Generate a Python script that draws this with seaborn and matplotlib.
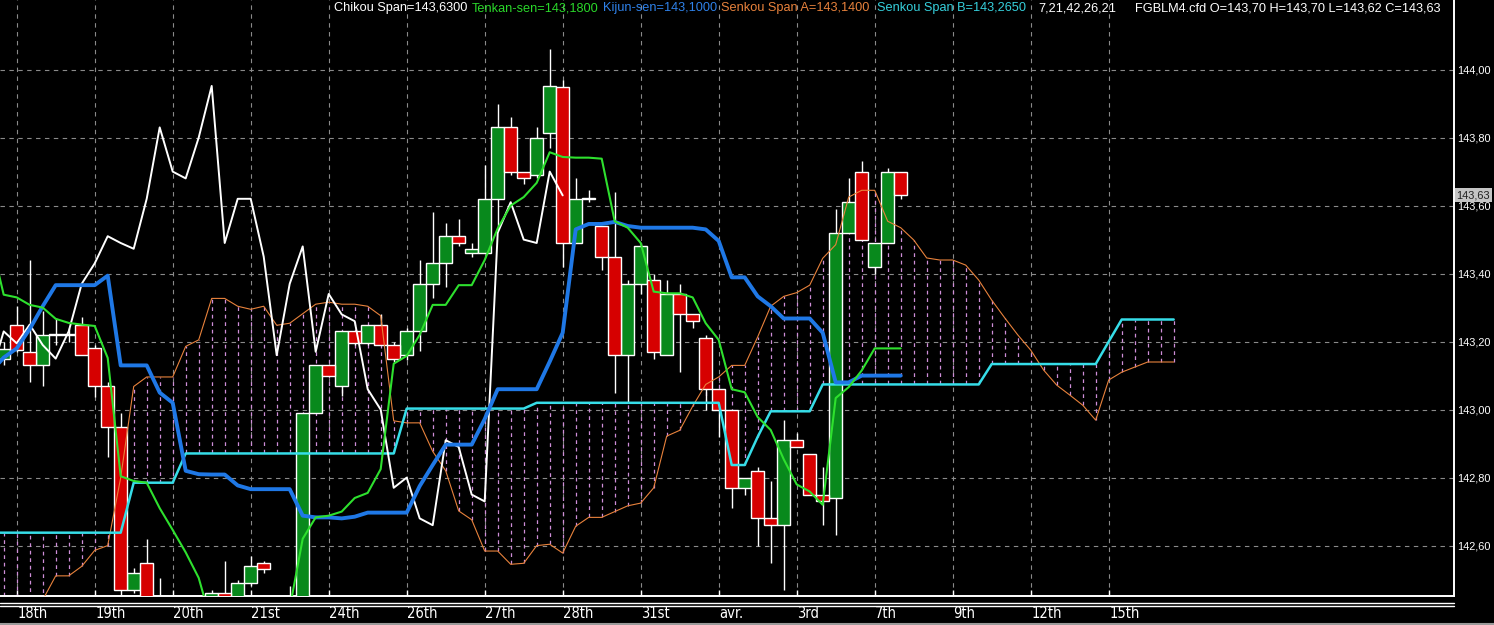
import numpy as np
import matplotlib
matplotlib.use("Agg")
import matplotlib.pyplot as plt
import matplotlib.transforms as mtransforms
from matplotlib.lines import Line2D
import seaborn as sns

# ---------------- data ----------------
candle_bars = list(range(0, 70))
opens = [143.15, 143.25, 143.17, 143.13, 143.22, 143.22, 143.25, 143.18, 143.07, 142.95,
         142.47, 142.55, 142.38, 142.30, 142.22, 142.30, 142.38, 142.46, 142.40, 142.49,
         142.55, 142.40, 142.20, 142.35, 142.99, 143.13, 143.07, 143.23, 143.195, 143.25,
         143.19, 143.16, 143.23, 143.37, 143.43, 143.51, 143.462, 143.46, 143.62, 143.83,
         143.70, 143.69, 143.813, 143.95, 143.49, 143.62, 143.54, 143.45, 143.16, 143.37,
         143.38, 143.16, 143.34, 143.28, 143.21, 143.06, 143.00, 142.77, 142.82, 142.68,
         142.66, 142.91, 142.87, 142.75, 142.74, 143.52, 143.70, 143.42, 143.49, 143.70]
closes = [143.178, 143.175, 143.13, 143.22, 143.22, 143.22, 143.16, 143.07, 142.95, 142.47,
          142.52, 142.35, 142.30, 142.22, 142.30, 142.35, 142.46, 142.40, 142.49, 142.54,
          142.53, 142.20, 142.35, 142.99, 143.13, 143.10, 143.23, 143.195, 143.25, 143.19,
          143.15, 143.23, 143.37, 143.43, 143.51, 143.49, 143.473, 143.62, 143.83, 143.70,
          143.68, 143.80, 143.952, 143.49, 143.62, 143.62, 143.45, 143.16, 143.37, 143.48,
          143.17, 143.34, 143.28, 143.26, 143.06, 143.00, 142.77, 142.80, 142.68, 142.66,
          142.91, 142.89, 142.75, 142.73, 143.52, 143.61, 143.50, 143.49, 143.70, 143.63]
highs = [143.20, 143.305, 143.44, 143.29, 143.27, 143.24, 143.273, 143.19, 143.08, 142.99,
         142.534, 142.618, 142.505, 142.38, 142.36, 142.40, 142.47, 142.556, 142.50, 142.57,
         142.555, 142.43, 142.48, 142.99, 143.13, 143.13, 143.23, 143.23, 143.25, 143.28,
         143.20, 143.24, 143.44, 143.58, 143.55, 143.56, 143.49, 143.72, 143.90, 143.86,
         143.70, 143.83, 144.06, 143.97, 143.68, 143.645, 143.54, 143.64, 143.38, 143.49,
         143.40, 143.38, 143.37, 143.28, 143.22, 143.06, 143.00, 142.80, 142.83, 142.79,
         142.97, 142.93, 142.87, 142.83, 143.59, 143.68, 143.73, 143.49, 143.71, 143.70]
lows = [143.13, 143.17, 143.08, 143.07, 143.19, 143.20, 143.16, 143.038, 142.861, 142.40,
        142.46, 142.30, 142.25, 142.18, 142.15, 142.25, 142.35, 142.35, 142.38, 142.48,
        142.52, 142.10, 142.10, 142.30, 142.99, 143.10, 143.04, 143.19, 143.19, 143.19,
        143.14, 143.147, 143.173, 143.327, 143.36, 143.48, 143.45, 143.46, 143.53, 143.69,
        143.665, 143.68, 143.77, 143.42, 143.49, 143.61, 143.41, 143.05, 143.02, 143.34,
        143.15, 143.16, 143.11, 143.24, 143.00, 142.92, 142.71, 142.75, 142.60, 142.55,
        142.47, 142.89, 142.75, 142.66, 142.63, 143.52, 143.50, 143.40, 143.49, 143.62]

line_bars = list(range(-1, 70))
tenkan = [143.50,
          143.338, 143.330, 143.308, 143.30, 143.267, 143.255, 143.25, 143.246, 143.152, 142.804,
          142.79, 142.785, 142.71, 142.646, 142.58, 142.505, 142.37, 142.30, 142.28, 142.28,
          142.25, 142.25, 142.415, 142.62, 142.683, 142.688, 142.70, 142.74, 142.755, 142.825,
          143.135, 143.158, 143.22, 143.308, 143.308, 143.366, 143.366, 143.44, 143.533, 143.60,
          143.625, 143.667, 143.757, 143.743, 143.741, 143.741, 143.738, 143.554, 143.535, 143.49,
          143.347, 143.342, 143.342, 143.33, 143.254, 143.205, 143.06, 143.051, 142.978, 142.94,
          142.854, 142.78, 142.759, 142.72, 143.034, 143.066, 143.115, 143.18, 143.18, 143.18]
kijun = [143.11,
         143.153, 143.18, 143.237, 143.304, 143.366, 143.366, 143.366, 143.366, 143.394, 143.13,
         143.13, 143.13, 143.05, 143.02, 142.82, 142.81, 142.809, 142.809, 142.777, 142.766,
         142.766, 142.766, 142.766, 142.688, 142.683, 142.683, 142.68, 142.685, 142.697, 142.697,
         142.697, 142.697, 142.775, 142.837, 142.897, 142.897, 142.897, 142.972, 143.06, 143.06,
         143.06, 143.06, 143.141, 143.226, 143.53, 143.546, 143.546, 143.552, 143.54, 143.535,
         143.535, 143.535, 143.535, 143.535, 143.53, 143.496, 143.389, 143.389, 143.333, 143.304,
         143.268, 143.268, 143.268, 143.226, 143.08, 143.08, 143.10, 143.10, 143.10, 143.10]

chikou_bars = list(range(-1, 44))
chikou = [143.10,
          143.23, 143.195, 143.25, 143.19, 143.15, 143.23, 143.37, 143.43, 143.51, 143.49,
          143.473, 143.62, 143.83, 143.70, 143.68, 143.80, 143.952, 143.49, 143.62, 143.62,
          143.45, 143.16, 143.37, 143.48, 143.17, 143.34, 143.28, 143.26, 143.06, 143.00,
          142.77, 142.80, 142.68, 142.66, 142.91, 142.89, 142.75, 142.73, 143.52, 143.61,
          143.50, 143.49, 143.70, 143.63]

span_bars = list(range(-1, 91))
senkou_a = [142.34,
            142.36, 142.38, 142.40, 142.44, 142.511, 142.511, 142.539, 142.586, 142.60, 142.80,
            143.068, 143.096, 143.096, 143.096, 143.186, 143.205, 143.327, 143.327, 143.304, 143.295,
            143.304, 143.248, 143.254, 143.282, 143.31, 143.316, 143.31, 143.31, 143.304, 143.276,
            142.967, 142.961, 142.961, 142.877, 142.82, 142.702, 142.676, 142.584, 142.584, 142.545,
            142.548, 142.60, 142.604, 142.578, 142.657, 142.683, 142.683, 142.70, 142.717, 142.725,
            142.77, 142.922, 142.939, 143.01, 143.074, 143.096, 143.13, 143.13, 143.214, 143.304,
            143.333, 143.344, 143.366, 143.445, 143.485, 143.625, 143.645, 143.645, 143.554, 143.535,
            143.499, 143.446, 143.44, 143.44, 143.425, 143.381, 143.322, 143.27, 143.22, 143.175,
            143.116, 143.072, 143.043, 143.013, 142.969, 143.087, 143.11, 143.125, 143.14, 143.14, 143.14]
senkou_b = [142.638,
            142.638, 142.638, 142.638, 142.638, 142.638, 142.638, 142.638, 142.638, 142.638, 142.638,
            142.785, 142.785, 142.785, 142.785, 142.871, 142.871, 142.871, 142.871, 142.871, 142.871,
            142.871, 142.871, 142.871, 142.871, 142.871, 142.871, 142.871, 142.871, 142.871, 142.871,
            142.871, 143.003, 143.003, 143.003, 143.003, 143.003, 143.003, 143.003, 143.003, 143.003,
            143.003, 143.02, 143.02, 143.02, 143.02, 143.02, 143.02, 143.02, 143.02, 143.02,
            143.02, 143.02, 143.02, 143.02, 143.02, 143.02, 142.837, 142.837, 142.92, 142.995,
            142.995, 142.995, 142.995, 143.074, 143.074, 143.074, 143.074, 143.074, 143.074, 143.074,
            143.074, 143.074, 143.074, 143.074, 143.074, 143.074, 143.134, 143.134, 143.134, 143.134,
            143.134, 143.134, 143.134, 143.134, 143.134, 143.20, 143.265, 143.265, 143.265, 143.265, 143.265]

date_tick_bars = [1, 7, 13, 19, 25, 31, 37, 43, 49, 55, 61, 67, 73, 79, 85]
date_labels = ["18th", "19th", "20th", "21st", "24th", "26th", "27th", "28th", "31st",
               "avr.", "3rd", "7th", "9th", "12th", "15th"]
price_ticks = [142.6, 142.8, 143.0, 143.2, 143.4, 143.6, 143.8, 144.0]
last_price = 143.63

header_items = [
    (334, "Chikou Span=143,6300", "#ffffff"),
    (472, "Tenkan-sen=143,1800", "#2ad82a"),
    (603, "Kijun-sen=143,1000", "#2f82ea"),
    (721, "Senkou Span A=143,1400", "#e8823c"),
    (877, "Senkou Span B=143,2650", "#36d0dc"),
    (1038, "7,21,42,26,21", "#ffffff"),
    (1135, "FGBLM4.cfd O=143,70 H=143,70 L=143,62 C=143,63", "#ffffff"),
]

# ---------------- figure ----------------
sns.set_theme(style="dark")
plt.rcParams["font.family"] = ["Liberation Sans", "DejaVu Sans"]

W, H = 1494, 625
fig = plt.figure(figsize=(W / 100, H / 100), dpi=100, facecolor="black")
ax_right, ax_bottom = 1454, 596
ax = fig.add_axes([0, (H - ax_bottom) / H, ax_right / W, ax_bottom / H])
ax.set_facecolor("black")

ymax = 144.0 + 69.6 / 340
ymin = 144.0 - (ax_bottom - 69.6) / 340
xmin = -3.7 / 13
xmax = (ax_right - 3.7) / 13
ax.set_xlim(xmin, xmax)
ax.set_ylim(ymin, ymax)

# grid
ax.set_axisbelow(True)
ax.set_xticks(date_tick_bars)
ax.set_yticks(price_ticks)
ax.grid(True, color="#8a8a8a", linestyle=(0, (4, 4)), linewidth=0.8)

# cloud hatching (vertical dashed lines between spans)
sa = np.array(senkou_a)
sb = np.array(senkou_b)
sx = np.array(span_bars)
ax.vlines(sx[1:], np.minimum(sa, sb)[1:], np.maximum(sa, sb)[1:],
          colors="#cf8ed8", linestyles=(0, (3, 3)), linewidth=0.9, zorder=1.5)

# candles
o = np.array(opens); c = np.array(closes)
ax.vlines(candle_bars, lows, highs, colors="white", linewidth=1.0, zorder=2.5)
up = c >= o
body_bottom = np.minimum(o, c)
body_h = np.maximum(np.abs(c - o), 0.0015)
ax.bar(np.array(candle_bars)[up], body_h[up], bottom=body_bottom[up], width=0.97,
       color="#08891c", edgecolor="white", linewidth=1.0, zorder=3)
ax.bar(np.array(candle_bars)[~up], body_h[~up], bottom=body_bottom[~up], width=0.97,
       color="#d60000", edgecolor="white", linewidth=1.0, zorder=3)

# ichimoku lines
sns.lineplot(x=span_bars, y=senkou_a, ax=ax, color="#e8823c", linewidth=0.8, zorder=4)
sns.lineplot(x=span_bars, y=senkou_b, ax=ax, color="#36dde8", linewidth=1.8, zorder=4.2)
sns.lineplot(x=chikou_bars, y=chikou, ax=ax, color="white", linewidth=1.4, zorder=4.4)
sns.lineplot(x=line_bars, y=kijun, ax=ax, color="#1f78e6", linewidth=2.8, zorder=4.6)
sns.lineplot(x=line_bars, y=tenkan, ax=ax, color="#2ee02e", linewidth=1.5, zorder=4.8)
ax.set_xlabel("")
ax.set_ylabel("")

# spines / ticks
for s in ("top", "left"):
    ax.spines[s].set_visible(False)
for s in ("right", "bottom"):
    ax.spines[s].set_visible(True)
    ax.spines[s].set_color("white")
    ax.spines[s].set_linewidth(1.4)
ax.tick_params(axis="x", direction="in", length=4, color="white", width=1,
               labelbottom=False, bottom=True)
ax.yaxis.tick_right()
ax.tick_params(axis="y", length=0, pad=2.5, labelcolor="white", labelsize=7.9)
ax.set_yticklabels([f"{v:.2f}".replace(".", ",") for v in price_ticks])

# double lines under the plot, grey bottom line
for yy in (602.5, 605.5):
    fig.add_artist(Line2D([0, ax_right / W], [1 - yy / H, 1 - yy / H],
                          color="white", linewidth=1.0, transform=fig.transFigure))
fig.add_artist(Line2D([0, 1], [1 - 624 / H, 1 - 624 / H], color="#9a9a9a",
                      linewidth=1.5, transform=fig.transFigure))

# date labels
trans = mtransforms.blended_transform_factory(ax.transData, fig.transFigure)
for b, lab in zip(date_tick_bars, date_labels):
    ax.text(b + 0.05, 1 - 614 / H, lab, transform=trans, ha="left", va="center",
            color="white", fontsize=10.5, fontstretch="condensed",
            family=["Liberation Sans Narrow", "DejaVu Sans"], clip_on=False)

# header texts
for x, txt, col in header_items:
    fig.text(x / W, 1 - 8.5 / H, txt, color=col, fontsize=9.2, ha="left", va="center")

# last price box
ypx = 69.6 + (144.0 - last_price) * 340
fig.text(1456.5 / W, 1 - ypx / H, f"{last_price:.2f}".replace(".", ","), color="#202020",
         fontsize=7.9, ha="left", va="center",
         bbox=dict(facecolor="#c4c4c4", edgecolor="none", pad=1.4))

fig.savefig("out.png", dpi=100, facecolor="black")
